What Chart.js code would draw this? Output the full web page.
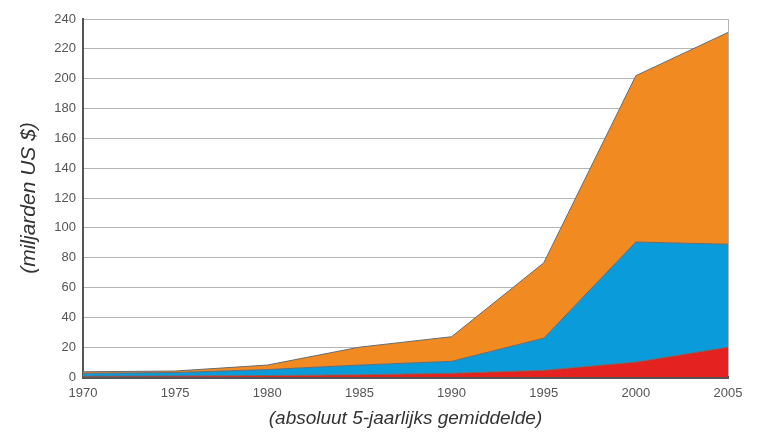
<!DOCTYPE html>
<html>
<head>
<meta charset="utf-8">
<script src="https://cdn.jsdelivr.net/npm/chart.js@4.4.1/dist/chart.umd.min.js"></script>
<style>
  html, body { margin: 0; padding: 0; background: #ffffff; }
  #wrap { width: 761px; height: 438px; position: relative; }
</style>
</head>
<body>
<div id="wrap"><canvas id="chart"></canvas></div>
<script>
// years on the x axis
const YEARS = ["1970", "1975", "1980", "1985", "1990", "1995", "2000", "2005"];

// series values (billions US $), stacked bottom to top
const RED_VALUES = [0.5, 0.7, 1, 1.5, 2.5, 4.5, 10, 20];
const BLUE_VALUES = [2, 2.3, 4, 6.5, 8, 21.5, 80.5, 69];
const ORANGE_VALUES = [1, 1, 3, 12, 16.5, 50.5, 111.5, 142];

const Y_MAX = 240;
const Y_STEP = 20;

const TICK_FONT = { family: "Liberation Sans, Arial, sans-serif", size: 13 };
const OUTLINE = "#6b6b6b";

function areaSet(label, data, color, fill) {
  return {
    label,
    data,
    fill,
    backgroundColor: color,
    borderColor: OUTLINE,
    borderWidth: 1,
    pointRadius: 0,
    tension: 0
  };
}

new Chart(document.getElementById("chart").getContext("2d"), {
  type: "line",
  data: {
    labels: YEARS,
    datasets: [
      areaSet("rood", RED_VALUES, "#e42320", "origin"),
      areaSet("blauw", BLUE_VALUES, "#0a9bdb", "-1"),
      areaSet("oranje", ORANGE_VALUES, "#f28a22", "-1")
    ]
  },
  options: {
    responsive: true,
    maintainAspectRatio: false,
    animation: false,
    layout: {
      padding: { top: 19, right: 33, bottom: 0, left: 0 }
    },
    scales: {
      x: {
        offset: false,
        afterFit: (scale) => { scale.height = 61; },
        ticks: {
          color: "#555",
          padding: 9,
          maxRotation: 0,
          autoSkip: false,
          font: TICK_FONT
        },
        grid: {
          drawTicks: false,
          color: (ctx) => (ctx.index === YEARS.length - 1 ? "#b5b5b5" : "transparent")
        },
        border: { color: "#555", width: 3 },
        title: {
          display: true,
          text: "(absoluut 5-jaarlijks gemiddelde)",
          color: "#333",
          padding: { top: 0, bottom: 8 },
          font: { family: "Liberation Sans, Arial, sans-serif", size: 19, style: "italic" }
        }
      },
      y: {
        stacked: true,
        min: 0,
        max: Y_MAX,
        afterFit: (scale) => { scale.width = 83; },
        ticks: {
          stepSize: Y_STEP,
          color: "#555",
          padding: 7,
          font: TICK_FONT
        },
        grid: {
          drawTicks: false,
          color: "#b5b5b5",
          lineWidth: 1
        },
        border: { color: "#555", width: 2 },
        title: {
          display: true,
          text: "(miljarden US $)",
          color: "#333",
          padding: { top: 17, bottom: 0 },
          font: { family: "Liberation Sans, Arial, sans-serif", size: 21, style: "italic" }
        }
      }
    },
    plugins: {
      legend: { display: false },
      tooltip: { enabled: false }
    }
  }
});
</script>
</body>
</html>
